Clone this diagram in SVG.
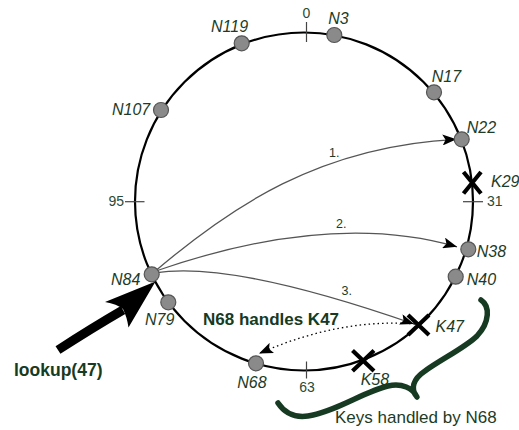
<svg xmlns="http://www.w3.org/2000/svg" width="519" height="430" viewBox="0 0 519 430">
<style>
.lbl{font-family:"Liberation Sans",Arial,sans-serif;font-style:italic;font-size:16px;fill:#1d3b26}
.tick{stroke:#444;stroke-width:1.2}
.tl{font-family:"Liberation Sans",Arial,sans-serif;font-size:14px;fill:#2a4a34}
.num{font-family:"Liberation Sans",Arial,sans-serif;font-size:12.5px;fill:#1d3b26}
.node{fill:#8a8a8a;stroke:#555;stroke-width:1.2}
.x{stroke:#000;stroke-width:4.2;stroke-linecap:butt}
.hop{fill:none;stroke:#555;stroke-width:1.3}
.bold{font-family:"Liberation Sans",Arial,sans-serif;font-weight:bold;fill:#173a22}
</style>
<defs>
<marker id="ah" markerUnits="userSpaceOnUse" markerWidth="15" markerHeight="11" refX="14" refY="5.5" orient="auto">
<path d="M0,0 L14,5.5 L0,11 L3,5.5 Z" fill="#000"/>
</marker>
</defs>
<rect width="519" height="430" fill="#fff"/>
<g id="ring">
<circle cx="304" cy="201.5" r="169" fill="none" stroke="#000" stroke-width="2.2"/>
<line class="tick" x1="306.5" y1="22" x2="306.5" y2="42"/>
<line class="tick" x1="463" y1="201.7" x2="483" y2="201.7"/>
<line class="tick" x1="306.5" y1="361.5" x2="306.5" y2="378.5"/>
<line class="tick" x1="125" y1="201.7" x2="144.5" y2="201.7"/>
<text class="tl" x="306.5" y="18" text-anchor="middle">0</text>
<text class="tl" x="487" y="205.7">31</text>
<text class="tl" x="307" y="391.5" text-anchor="middle">63</text>
<text class="tl" x="124" y="205.7" text-anchor="end">95</text>
</g>
<g id="connectors">
<path class="hop" d="M153 273 C230 207 320 146 456.5 139.3" marker-end="url(#ah)"/>
<path class="hop" d="M153 272 Q330 210 457 246.8" marker-end="url(#ah)"/>
<path class="hop" d="M155 273 Q230 260 414 324" marker-end="url(#ah)"/>
<path d="M415 324 Q340 318 259 353.5" fill="none" stroke="#000" stroke-width="1.3" stroke-dasharray="1.5 3" marker-end="url(#ah)"/>
<text class="num" x="329" y="156.7">1.</text>
<text class="num" x="336" y="228.3">2.</text>
<text class="num" x="341.5" y="295">3.</text>
</g>
<g id="lookup">
<path d="M58 350 Q92 328 123 310" fill="none" stroke="#000" stroke-width="9"/>
<path d="M155.5 281.5 L105 302 Q117 304 123 309 Q127 317 128.5 327.5 Z" fill="#000"/>
<text class="bold" x="14" y="376" font-size="17.5">lookup(47)</text>
</g>
<g id="N119"><circle class="node" cx="241.7" cy="43.3" r="7.5"/><text class="lbl" x="211" y="32">N119</text></g>
<g id="N3"><circle class="node" cx="334.3" cy="35" r="7.5"/><text class="lbl" x="328.3" y="24">N3</text></g>
<g id="N17"><circle class="node" cx="434" cy="92.3" r="7.5"/><text class="lbl" x="431.7" y="81.7">N17</text></g>
<g id="N22"><circle class="node" cx="461.7" cy="139.3" r="7.5"/><text class="lbl" x="466.7" y="132.7">N22</text></g>
<g id="K29"><path class="x" d="M463.5 172 L481 193.5 M481 172 L463.5 193.5"/><text class="lbl" x="491" y="186.7">K29</text></g>
<g id="N38"><circle class="node" cx="468.3" cy="249.3" r="7.5"/><text class="lbl" x="476.7" y="256.7">N38</text></g>
<g id="N40"><circle class="node" cx="455.7" cy="276.7" r="7.5"/><text class="lbl" x="466.7" y="285">N40</text></g>
<g id="K47"><path class="x" d="M408 315 L429 335 M429 315 L408 335"/><text class="lbl" x="435.5" y="331.7">K47</text></g>
<g id="K58"><path class="x" d="M352.5 350.5 L374 371 M374 350.5 L352.5 371"/><text class="lbl" x="360.7" y="385">K58</text></g>
<g id="N68"><circle class="node" cx="256" cy="363.3" r="7.5"/><text class="lbl" x="237.3" y="388.3">N68</text></g>
<g id="N79"><circle class="node" cx="168.3" cy="302.3" r="7.5"/><text class="lbl" x="145" y="325">N79</text></g>
<g id="N84"><circle class="node" cx="151.7" cy="274.3" r="7.5"/><text class="lbl" x="111" y="285">N84</text></g>
<g id="N107"><circle class="node" cx="161" cy="110" r="7.5"/><text class="lbl" x="112" y="115">N107</text></g>
<g id="handles">
<text class="bold" x="203" y="325" font-size="17">N68 handles K47</text>
</g>
<g id="brace">
<path d="M481 300 C490 306 490 322 477 336 C466 347 440 360 425 371 C413 379 410 389 417 397 C413 388 402 383 388 386 C365 391 335 412 308 416 C294 418 284 412 278 403" fill="none" stroke="#173a22" stroke-width="5.5" stroke-linecap="round" stroke-linejoin="round"/>
<text x="335" y="423" font-family="Liberation Sans, Arial, sans-serif" font-size="17" fill="#1d3b26">Keys handled by N68</text>
</g>
</svg>
